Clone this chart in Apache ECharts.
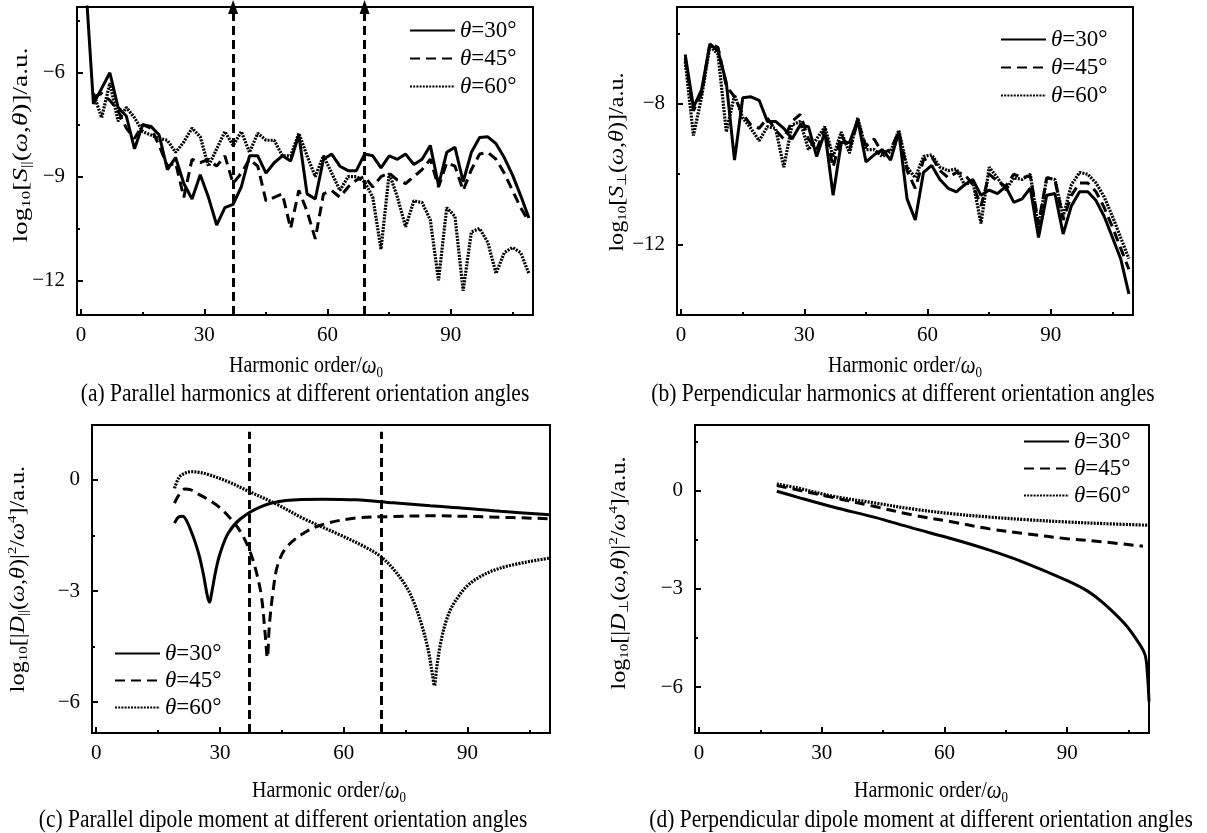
<!DOCTYPE html>
<html><head><meta charset="utf-8">
<script src="https://cdn.jsdelivr.net/npm/echarts@6/dist/echarts.min.js"></script>
<style>html,body{margin:0;padding:0;background:#fff}#c{width:1207px;height:833px}</style>
</head><body><div id="c"></div>
<script>
// ---------- data ----------
const harmonicOrders = [1,3,5,7,9,11,13,15,17,19,21,23,25,27,29,31,33,35,37,39,41,43,45,47,49,51,53,55,57,59,61,63,65,67,69,71,73,75,77,79,81,83,85,87,89,91,93,95,97,99,101,103,105,107,109];
const seriesNames = ['θ=30°', 'θ=45°', 'θ=60°'];

// (a) parallel harmonics
const aTheta30 = [-3.2,-6.9,-6.45,-6.0,-7.0,-7.25,-8.2,-7.5,-7.55,-7.8,-8.8,-8.45,-9.2,-9.65,-8.95,-9.6,-10.4,-9.9,-9.8,-9.3,-8.4,-8.4,-8.9,-8.6,-8.4,-8.55,-7.8,-9.5,-9.65,-8.5,-8.35,-8.7,-8.83,-8.83,-8.35,-8.4,-8.75,-8.4,-8.5,-8.35,-8.65,-8.5,-8.1,-9.25,-8.3,-8.15,-9.15,-8.3,-7.87,-7.85,-8.05,-8.45,-8.95,-9.55,-10.2];
const aTheta45 = [null,-6.7,-6.6,-6.8,-7.1,-7.6,-7.9,-7.5,-7.6,-8.1,-8.7,-8.6,-9.6,-8.5,-8.6,-8.5,-8.7,-8.4,-9.2,-8.9,-8.5,-8.7,-9.7,-9.6,-9.5,-10.5,-9.4,-10.0,-10.8,-9.5,-9.4,-9.6,-9.3,-9.1,-9.0,-9.3,-9.0,-8.9,-9.1,-9.2,-9.0,-8.8,-8.5,-9.3,-8.6,-8.7,-9.4,-8.8,-8.35,-8.3,-8.5,-8.9,-9.4,-9.9,-10.3];
const aTheta60 = [null,-6.6,-7.3,-6.3,-7.4,-7.0,-7.3,-7.7,-7.8,-7.9,-7.95,-8.3,-8.0,-7.6,-7.85,-8.7,-8.2,-7.7,-8.1,-7.7,-8.3,-7.75,-7.95,-7.95,-8.4,-8.4,-7.75,-8.4,-9.0,-8.4,-8.9,-9.4,-9.0,-9.0,-9.15,-9.6,-11.1,-8.9,-9.6,-10.45,-9.7,-9.75,-10.25,-12.0,-9.9,-10.15,-12.3,-10.6,-10.5,-10.9,-11.8,-11.2,-11.05,-11.2,-11.8];

// (b) perpendicular harmonics
const bTheta30 = [-6.6,-8.1,-7.6,-6.3,-6.5,-7.4,-9.6,-7.83,-7.8,-7.9,-8.5,-8.5,-8.7,-9.0,-8.6,-8.65,-9.5,-8.8,-10.6,-9.1,-9.1,-8.45,-9.65,-9.45,-9.3,-9.6,-8.8,-10.7,-11.3,-9.95,-9.75,-10.15,-10.4,-10.5,-10.3,-10.15,-10.6,-10.45,-10.55,-10.35,-10.8,-10.7,-10.4,-11.8,-10.6,-10.55,-11.7,-10.9,-10.5,-10.5,-10.75,-11.2,-11.8,-12.4,-13.4];
const bTheta45 = [-6.7,-8.2,-7.7,-6.3,-6.4,-7.5,-7.8,-8.3,-8.6,-8.7,-8.4,-8.75,-9.0,-8.5,-8.3,-9.0,-9.3,-8.7,-9.8,-8.9,-9.3,-8.5,-9.2,-9.0,-9.4,-9.3,-8.8,-9.9,-10.4,-9.6,-9.5,-9.9,-10.1,-9.95,-10.0,-10.3,-10.9,-10.0,-10.2,-10.35,-10.0,-10.1,-10.05,-11.4,-10.1,-10.15,-11.3,-10.6,-10.25,-10.25,-10.5,-10.95,-11.5,-12.1,-12.7];
const bTheta60 = [-6.8,-8.9,-7.8,-6.35,-6.6,-8.8,-7.75,-8.4,-8.7,-9.05,-8.65,-8.7,-9.8,-8.6,-8.5,-9.3,-9.0,-8.65,-9.5,-8.8,-9.4,-8.4,-9.3,-9.3,-9.5,-9.35,-8.75,-9.8,-10.1,-9.5,-9.45,-9.8,-9.9,-9.85,-10.3,-10.2,-11.4,-9.8,-10.1,-10.45,-10.1,-10.15,-10.0,-11.55,-10.1,-10.15,-11.2,-10.3,-9.95,-10.0,-10.25,-10.65,-11.2,-11.8,-12.4];

// (c) parallel dipole moment
const cOrders30 = [19,20,21,22,23,24,25,26,27,27.5,28,29,30,32,35,40,46,55,63,72,81,90,98,110];
const cTheta30  = [-1.17,-1.0,-0.98,-1.12,-1.38,-1.68,-2.05,-2.55,-3.15,-3.3,-3.05,-2.45,-2.0,-1.44,-1.05,-0.72,-0.56,-0.52,-0.54,-0.62,-0.7,-0.77,-0.85,-0.94];
const cOrders45 = [19,20,21.5,23,25,27,30,33,35,37,38.5,40,41,41.5,42,43,44,46,50,55,63,72,81,95,110];
const cTheta45  = [-0.63,-0.42,-0.25,-0.27,-0.4,-0.52,-0.75,-1.1,-1.4,-1.85,-2.35,-3.1,-4.2,-4.8,-3.9,-2.9,-2.3,-1.84,-1.46,-1.2,-1.03,-0.99,-0.97,-1.0,-1.05];
const cOrders60 = [19,20,21,23,25,27,32,37,44,50,59,65,69,72,75,77,79,80.5,81.5,82,82.5,83.5,85,87,91,98,110];
const cTheta60  = [-0.23,0.05,0.15,0.22,0.2,0.15,-0.05,-0.31,-0.67,-1.03,-1.48,-1.8,-2.07,-2.4,-2.85,-3.3,-3.95,-4.6,-5.25,-5.55,-5.1,-4.4,-3.75,-3.28,-2.76,-2.38,-2.11];

// (d) perpendicular dipole moment
const dOrders30 = [19,24,33,43,52,62,71,80,90,95,99,104,107,109,109.6,110];
const dTheta30  = [-0.02,-0.2,-0.51,-0.82,-1.14,-1.48,-1.82,-2.22,-2.75,-3.07,-3.45,-4.06,-4.56,-5.0,-5.58,-6.44];
const dOrders45 = [19,24,33,43,52,62,71,80,90,99,108.5];
const dTheta45  = [0.15,0.02,-0.22,-0.49,-0.74,-0.96,-1.17,-1.32,-1.47,-1.57,-1.7];
const dOrders60 = [19,24,33,43,52,62,71,80,90,99,110];
const dTheta60  = [0.2,0.08,-0.18,-0.38,-0.56,-0.71,-0.81,-0.89,-0.96,-1.01,-1.06];

// axes
const xRange = [-1, 110];
const xMajorTicks = [0, 30, 60, 90];
const xMinorTicks = [15, 45, 75, 105];
const yRanges = [[-13, -4.1], [-14, -5.25], [-6.83, 1.48], [-7.4, 2.0]];
const yMajorTicks = [[-12, -9, -6], [-12, -8], [-6, -3, 0], [-6, -3, 0]];
const yMinorTicks = [[-10.5, -7.5, -4.5], [-10, -6], [-4.5, -1.5], [-4.5, -1.5, 1.5]];
const markerOrders = [37, 69];

// ---------- layout / style ----------
const SERIF = 'Liberation Serif';
const grids = [
  {left: 77, top: 7, width: 456, height: 308},
  {left: 677, top: 7, width: 456, height: 308},
  {left: 92, top: 425, width: 458, height: 308},
  {left: 695, top: 425, width: 454, height: 308}
];
const lineStyles = [
  {color: '#000', width: 3, type: 'solid'},
  {color: '#000', width: 3, type: [10, 6]},
  {color: '#000', width: 3.2, type: [2, 1.2]}
];
const fmt = v => (v < 0 ? '\u2212' : '') + Math.abs(v);

const xAxes = [], yAxes = [];
grids.forEach((g, i) => {
  xAxes.push({gridIndex: i, type: 'value', min: xRange[0], max: xRange[1], position: 'bottom',
    axisLine: {show: true, onZero: false, lineStyle: {color: '#000', width: 2}},
    axisTick: {show: true, inside: true, length: 6, customValues: xMajorTicks, lineStyle: {color: '#000', width: 2}},
    axisLabel: {show: true, customValues: xMajorTicks, margin: 10, color: '#000', fontFamily: SERIF, fontSize: 21, formatter: fmt},
    splitLine: {show: false}});
  xAxes.push({gridIndex: i, type: 'value', min: xRange[0], max: xRange[1], position: 'bottom',
    axisLine: {show: false, onZero: false},
    axisTick: {show: true, inside: true, length: 3, customValues: xMinorTicks, lineStyle: {color: '#000', width: 2}},
    axisLabel: {show: false}, splitLine: {show: false}});
  yAxes.push({gridIndex: i, type: 'value', min: yRanges[i][0], max: yRanges[i][1], position: 'left',
    axisLine: {show: true, onZero: false, lineStyle: {color: '#000', width: 2}},
    axisTick: {show: true, inside: true, length: 6, customValues: yMajorTicks[i], lineStyle: {color: '#000', width: 2}},
    axisLabel: {show: true, customValues: yMajorTicks[i], margin: 12, color: '#000', fontFamily: SERIF, fontSize: 21, formatter: fmt},
    splitLine: {show: false}});
  yAxes.push({gridIndex: i, type: 'value', min: yRanges[i][0], max: yRanges[i][1], position: 'left',
    axisLine: {show: false, onZero: false},
    axisTick: {show: true, inside: true, length: 3, customValues: yMinorTicks[i], lineStyle: {color: '#000', width: 2}},
    axisLabel: {show: false}, splitLine: {show: false}});
});

const pairs = (xs, ys) => xs.map((x, k) => [x, ys[k]]).filter(p => p[1] !== null);
const panelData = [
  [pairs(harmonicOrders, aTheta30), pairs(harmonicOrders, aTheta45), pairs(harmonicOrders, aTheta60)],
  [pairs(harmonicOrders, bTheta30), pairs(harmonicOrders, bTheta45), pairs(harmonicOrders, bTheta60)],
  [pairs(cOrders30, cTheta30), pairs(cOrders45, cTheta45), pairs(cOrders60, cTheta60)],
  [pairs(dOrders30, dTheta30), pairs(dOrders45, dTheta45), pairs(dOrders60, dTheta60)]
];

const series = [];
panelData.forEach((sets, p) => {
  sets.forEach((data, s) => {
    const ser = {
      type: 'line', name: seriesNames[s], xAxisIndex: p * 2, yAxisIndex: p * 2,
      data: data, symbol: 'none', smooth: p >= 2 ? 0.35 : false, clip: true,
      lineStyle: lineStyles[s], itemStyle: {color: '#000'}, z: 3 - s
    };
    if (s === 0 && (p === 0 || p === 2)) {
      const yr = yRanges[p];
      const topY = p === 0 ? yr[1] : 1.3;
      ser.markLine = {
        silent: true, animation: false,
        symbol: p === 0 ? ['none', 'triangle'] : ['none', 'none'],
        symbolSize: [10, 14],
        label: {show: false},
        lineStyle: {color: '#000', width: 3, type: [9, 5]},
        data: markerOrders.map(m => [{coord: [m, yr[0]]}, {coord: [m, topY]}])
      };
    }
    series.push(ser);
  });
});

const legendPos = [
  {left: 409, top: 19, itemGap: 5},
  {left: 1000, top: 28, itemGap: 5},
  {left: 114, top: 642, itemGap: 4},
  {left: 1023, top: 430, itemGap: 4}
];
const legends = legendPos.map(lp => ({
  orient: 'vertical', left: lp.left, top: lp.top, itemGap: lp.itemGap,
  itemWidth: 45, itemHeight: 14, padding: 0, selectedMode: false,
  data: seriesNames,
  itemStyle: {color: 'transparent', borderWidth: 0, opacity: 0},
  formatter: n => '{i|θ}' + n.slice(1),
  textStyle: {color: '#000', fontFamily: SERIF, fontSize: 23, lineHeight: 22,
    rich: {i: {fontStyle: 'italic', fontFamily: SERIF, fontSize: 23, color: '#000'}}}
}));

const rich = {
  it: {fontStyle: 'italic', fontFamily: SERIF, fontSize: 21, lineHeight: 24},
  sub: {fontFamily: SERIF, fontSize: 13, lineHeight: 13, verticalAlign: 'bottom'},
  sup: {fontFamily: SERIF, fontSize: 13, lineHeight: 13, verticalAlign: 'top'}
};
const txt = (x, y, text, rot, size, sx, sy) => ({
  type: 'text', x: x, y: y, rotation: rot || 0, scaleX: sx || 1, scaleY: sy || 1, silent: true,
  style: {text: text, rich: rich, fontFamily: SERIF, fontSize: size || 20, lineHeight: 24,
    fill: '#000', align: 'center', verticalAlign: 'middle'}
});
const xTitle = 'Harmonic order/{it|ω}{sub|0}';
const graphics = [
  txt(306, 366, xTitle, 0, 20, 1, 1.2), txt(905, 366, xTitle, 0, 20, 1, 1.2),
  txt(329, 791, xTitle, 0, 20, 1, 1.2), txt(931, 791, xTitle, 0, 20, 1, 1.2),
  txt(305, 394, '(a) Parallel harmonics at different orientation angles', 0, 21.5, 1, 1.2),
  txt(903, 394, '(b) Perpendicular harmonics at different orientation angles', 0, 21.5, 1, 1.2),
  txt(283, 820, '(c) Parallel dipole moment at different orientation angles', 0, 21.5, 1, 1.2),
  txt(921, 820, '(d) Perpendicular dipole moment at different orientation angles', 0, 21.5, 1, 1.2),
  txt(21, 145, 'log{sub|10}[{it|S}{sub|||}({it|ω},{it|θ})]/a.u.', Math.PI / 2, 21, 1.3, 1),
  txt(617, 162, 'log{sub|10}[{it|S}{sub|⊥}({it|ω},{it|θ})]/a.u.', Math.PI / 2, 21, 1.15, 1),
  txt(18, 579, 'log{sub|10}[|{it|D}{sub|||}({it|ω},{it|θ})|{sup|2}/{it|ω}{sup|4}]/a.u.', Math.PI / 2, 21, 1.15, 1),
  txt(619, 573, 'log{sub|10}[|{it|D}{sub|⊥}({it|ω},{it|θ})|{sup|2}/{it|ω}{sup|4}]/a.u.', Math.PI / 2, 21, 1.15, 1)
];

const chart = echarts.init(document.getElementById('c'), null, {renderer: 'canvas'});
chart.setOption({
  animation: false,
  backgroundColor: '#fff',
  grid: grids.map(g => Object.assign({show: true, borderColor: '#000', borderWidth: 2, backgroundColor: 'transparent', containLabel: false}, g)),
  xAxis: xAxes, yAxis: yAxes,
  legend: legends,
  series: series,
  graphic: graphics
});
</script></body></html>
